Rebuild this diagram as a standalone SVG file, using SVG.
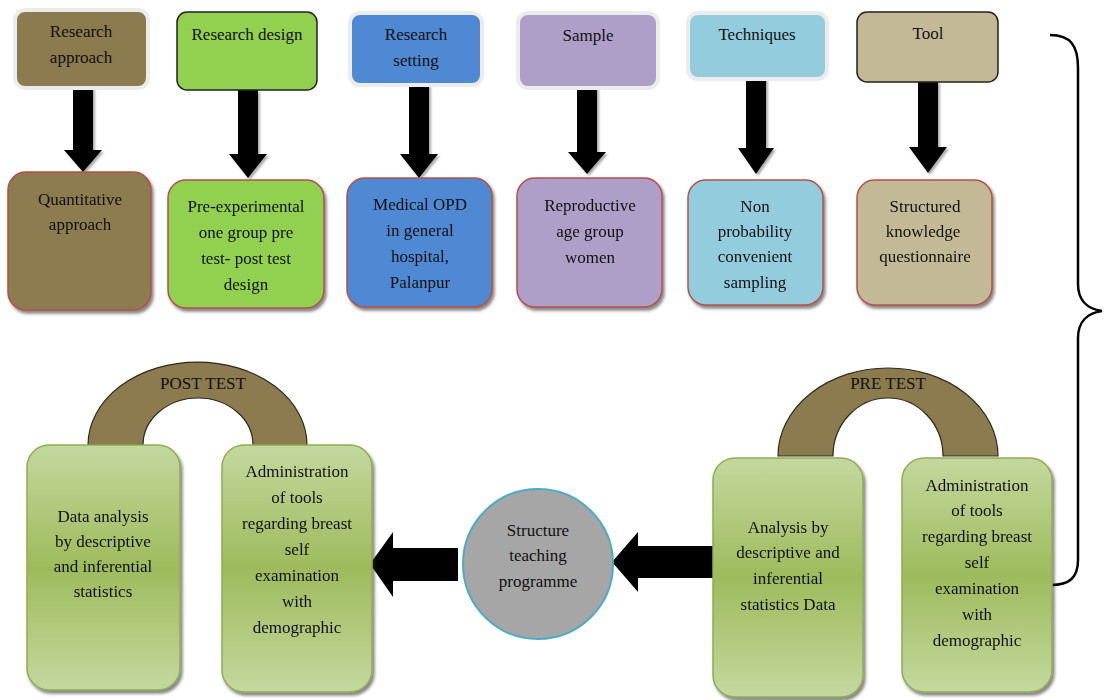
<svg xmlns="http://www.w3.org/2000/svg" width="1104" height="700" viewBox="0 0 1104 700">
<defs>
<style>
text{font-family:"Liberation Serif","Times New Roman",serif;font-size:17px;fill:#111;text-anchor:middle}
.glow{stroke:#ececec;stroke-width:4}
.dark{stroke:#222;stroke-width:1.5}
.red{stroke:#b5504a;stroke-width:1.5}
.gbox{fill:url(#gg);stroke:#8fae52;stroke-width:1.5}
.arch{fill:#8c7b4f;stroke:#2e2a1c;stroke-width:1.2}
.arrow{fill:#000}
</style>
<linearGradient id="gg" x1="0" y1="0" x2="0" y2="1">
<stop offset="0" stop-color="#c4d89e"/>
<stop offset="0.5" stop-color="#9dbb5c"/>
<stop offset="1" stop-color="#c4d89e"/>
</linearGradient>
<filter id="sh" x="-10%" y="-10%" width="130%" height="130%">
<feDropShadow dx="2" dy="3" stdDeviation="1.5" flood-color="#333" flood-opacity="0.6"/>
</filter>
<filter id="ash" x="-20%" y="-10%" width="150%" height="130%">
<feDropShadow dx="2" dy="2" stdDeviation="1.2" flood-color="#555" flood-opacity="0.5"/>
</filter>
</defs>
<rect width="1104" height="700" fill="#fff"/>

<g id="connectors">
<path class="arrow" filter="url(#ash)" d="M73 87 H93 V150 H102 L83 172 L64 150 H73 Z"/>
<path class="arrow" filter="url(#ash)" d="M238 90 H258 V154 H267 L248 178 L229 154 H238 Z"/>
<path class="arrow" filter="url(#ash)" d="M409 85 H429 V154 H438 L419 178 L400 154 H409 Z"/>
<path class="arrow" filter="url(#ash)" d="M577 87 H597 V152 H606 L587 174 L568 152 H577 Z"/>
<path class="arrow" filter="url(#ash)" d="M746 78 H766 V148 H774 L756 174 L738 148 H746 Z"/>
<path class="arrow" filter="url(#ash)" d="M918 81 H938 V147 H947 L928 173 L909 147 H918 Z"/>
<path class="arrow" d="M716 546 H638 V532 L612 562 L638 592 V578 H716 Z"/>
<path class="arrow" d="M458 548 H393 V532 L370 564 L393 597 V581 H458 Z"/>
<path d="M1050 35 C1071 35 1078 46 1078 68 L1078 284 C1078 300 1087 309 1102 311 C1087 313 1078 322 1078 338 L1078 560 C1078 578 1069 585 1051 585" fill="none" stroke="#000" stroke-width="2.5"/>
</g>

<g id="n-research-approach">
<rect x="15" y="10" width="133" height="78" rx="10" fill="#8c7b4f" class="glow"/>
<text x="81" y="37">Research</text><text x="81" y="63">approach</text>
</g>
<g id="n-research-design">
<rect x="177" y="12" width="140" height="78" rx="10" fill="#92d050" class="dark"/>
<text x="247" y="40">Research design</text>
</g>
<g id="n-research-setting">
<rect x="350" y="13" width="132" height="72" rx="10" fill="#4f88d3" class="glow"/>
<text x="416" y="40">Research</text><text x="416" y="66">setting</text>
</g>
<g id="n-sample">
<rect x="518" y="13" width="140" height="75" rx="10" fill="#ae9fc9" class="glow"/>
<text x="588" y="41">Sample</text>
</g>
<g id="n-techniques">
<rect x="688" y="13" width="139" height="66" rx="10" fill="#93cddd" class="glow"/>
<text x="757" y="40">Techniques</text>
</g>
<g id="n-tool">
<rect x="857" y="12" width="141" height="70" rx="10" fill="#c4b996" class="dark"/>
<text x="928" y="39">Tool</text>
</g>

<g id="n-quantitative" filter="url(#sh)">
<rect x="8" y="172" width="143" height="138" rx="18" fill="#8c7b4f" class="red"/>
<text x="80" y="205">Quantitative</text><text x="80" y="230">approach</text>
</g>
<g id="n-pre-experimental" filter="url(#sh)">
<rect x="168" y="180" width="156" height="128" rx="18" fill="#92d050" class="red"/>
<text x="246" y="212">Pre-experimental</text><text x="246" y="238">one group pre</text><text x="246" y="264">test- post test</text><text x="246" y="290">design</text>
</g>
<g id="n-medical-opd" filter="url(#sh)">
<rect x="347" y="178" width="145" height="129" rx="18" fill="#4f88d3" class="red"/>
<text x="420" y="210">Medical OPD</text><text x="420" y="236">in general</text><text x="420" y="262">hospital,</text><text x="420" y="288">Palanpur</text>
</g>
<g id="n-reproductive" filter="url(#sh)">
<rect x="517" y="178" width="145" height="129" rx="18" fill="#ae9fc9" class="red"/>
<text x="590" y="211">Reproductive</text><text x="590" y="237">age group</text><text x="590" y="263">women</text>
</g>
<g id="n-nonprob" filter="url(#sh)">
<rect x="688" y="180" width="135" height="125" rx="18" fill="#93cddd" class="red"/>
<text x="755" y="212">Non</text><text x="755" y="237">probability</text><text x="755" y="262">convenient</text><text x="755" y="288">sampling</text>
</g>
<g id="n-structured" filter="url(#sh)">
<rect x="857" y="180" width="135" height="125" rx="18" fill="#c4b996" class="red"/>
<text x="925" y="212">Structured</text><text x="923" y="237">knowledge</text><text x="925" y="262">questionnaire</text>
</g>

<g id="n-post-test">
<path class="arch" d="M88 445 A109.5 83 0 0 1 307 445 L253 445 A55 47 0 0 0 143 445 Z"/>
<text x="203" y="389">POST TEST</text>
</g>
<g id="n-data-analysis" filter="url(#sh)">
<rect x="27" y="445" width="153" height="245" rx="22" class="gbox"/>
<text x="103" y="522">Data analysis</text><text x="103" y="547">by descriptive</text><text x="103" y="572">and inferential</text><text x="103" y="597">statistics</text>
</g>
<g id="n-post-admin" filter="url(#sh)">
<rect x="222" y="445" width="150" height="247" rx="22" class="gbox"/>
<text x="297" y="477">Administration</text><text x="297" y="503">of tools</text><text x="297" y="529">regarding breast</text><text x="297" y="555">self</text><text x="297" y="581">examination</text><text x="297" y="607">with</text><text x="297" y="633">demographic</text>
</g>
<g id="n-structure-teaching">
<circle cx="538" cy="564" r="75" fill="#a6a6a6" stroke="#4bacc6" stroke-width="2"/>
<text x="538" y="536">Structure</text><text x="538" y="561">teaching</text><text x="538" y="587">programme</text>
</g>
<g id="n-pre-test">
<path class="arch" d="M778 456 A110 88 0 0 1 998 456 L943 456 A55 58 0 0 0 833 456 Z"/>
<text x="888" y="389">PRE TEST</text>
</g>
<g id="n-pre-analysis" filter="url(#sh)">
<rect x="713" y="458" width="150" height="239" rx="22" class="gbox"/>
<text x="788" y="533">Analysis by</text><text x="788" y="558">descriptive and</text><text x="788" y="584">inferential</text><text x="788" y="610">statistics Data</text>
</g>
<g id="n-pre-admin" filter="url(#sh)">
<rect x="902" y="458" width="150" height="234" rx="22" class="gbox"/>
<text x="977" y="491">Administration</text><text x="977" y="516">of tools</text><text x="977" y="542">regarding breast</text><text x="977" y="568">self</text><text x="977" y="594">examination</text><text x="977" y="620">with</text><text x="977" y="646">demographic</text>
</g>
</svg>
